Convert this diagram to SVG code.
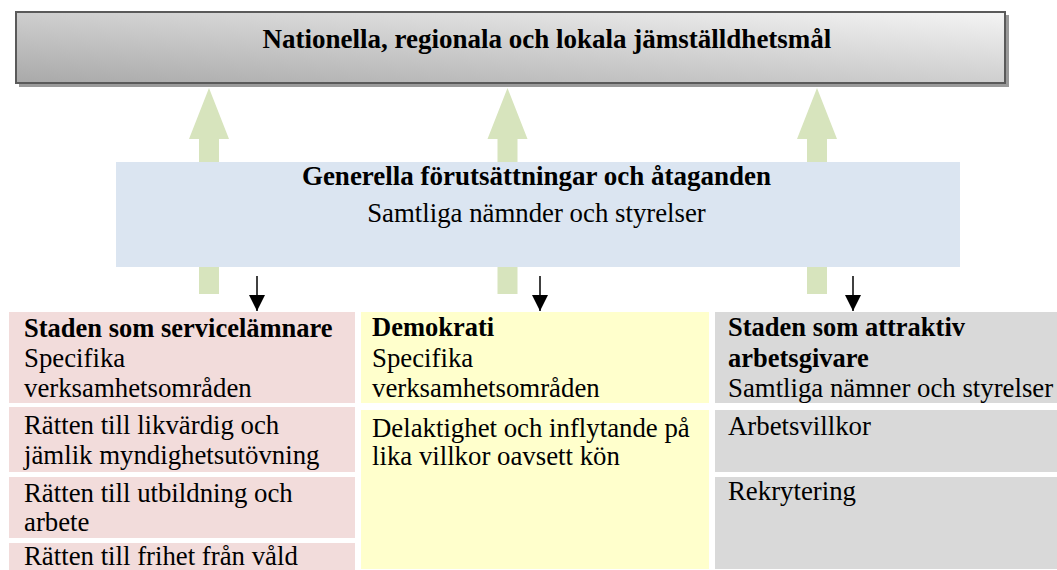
<svg xmlns="http://www.w3.org/2000/svg" width="1057" height="570" viewBox="0 0 1057 570">
<defs>
<linearGradient id="gTop" x1="0" y1="1" x2="1" y2="0">
<stop offset="0" stop-color="#a9a9a9"/>
<stop offset="1" stop-color="#f4f4f4"/>
</linearGradient>
<marker id="ah" viewBox="0 0 16 16" refX="16" refY="8" markerWidth="16" markerHeight="16" markerUnits="userSpaceOnUse" orient="auto">
<path d="M0,0 L16,8 L0,16 Z" fill="#000"/>
</marker>
</defs>
<style>
text{font-family:'Liberation Serif','Times New Roman',serif;font-size:26.8px;fill:#000}
.b{font-weight:bold;font-size:26.5px}
.t{font-size:27px}
.c{text-anchor:middle}
.green{fill:#d7e4bd}
.pink{fill:#f2dcdb}
.yel{fill:#ffffcc}
.gray{fill:#d9d9d9}
.blk{stroke:#000;stroke-width:1.5;fill:none}
</style>
<g id="green-arrows">
<path class="green" d="M209,88 L229,139 L219,139 L219,294 L199,294 L199,139 L189,139 Z"/>
<path class="green" d="M507.5,88 L527.5,139 L517.5,139 L517.5,294 L497.5,294 L497.5,139 L487.5,139 Z"/>
<path class="green" d="M817,88 L837,139 L827,139 L827,294 L807,294 L807,139 L797,139 Z"/>
</g>
<g id="top-goal">
<rect x="19" y="15" width="990" height="72" fill="#9a9a9a"/>
<rect x="16" y="12" width="989" height="71" fill="url(#gTop)" stroke="#5a5a5a" stroke-width="2"/>
<text class="b c t" x="547" y="48">Nationella, regionala och lokala jämställdhetsmål</text>
</g>
<g id="general">
<rect x="116" y="162" width="844" height="105" fill="#dbe5f1"/>
<text class="b c t" x="536.5" y="185">Generella förutsättningar och åtaganden</text>
<text class="c" x="536.5" y="222">Samtliga nämnder och styrelser</text>
</g>
<g id="connectors">
<line class="blk" x1="257" y1="276" x2="257" y2="311" marker-end="url(#ah)"/>
<line class="blk" x1="540" y1="276" x2="540" y2="311" marker-end="url(#ah)"/>
<line class="blk" x1="853" y1="276" x2="853" y2="311" marker-end="url(#ah)"/>
</g>
<g id="service">
<rect class="pink" x="9" y="312" width="346" height="91"/>
<text class="b" x="24" y="337">Staden som servicelämnare</text>
<text x="24" y="367">Specifika</text>
<text x="24" y="397">verksamhetsområden</text>
</g>
<g id="service-1">
<rect class="pink" x="9" y="407" width="346" height="65"/>
<text x="24" y="434">Rätten till likvärdig och</text>
<text x="24" y="464">jämlik myndighetsutövning</text>
</g>
<g id="service-2">
<rect class="pink" x="9" y="477" width="346" height="61"/>
<text x="24" y="502">Rätten till utbildning och</text>
<text x="24" y="531">arbete</text>
</g>
<g id="service-3">
<rect class="pink" x="9" y="543" width="346" height="27"/>
<text x="24" y="565">Rätten till frihet från våld</text>
</g>
<g id="demokrati">
<rect class="yel" x="361" y="312" width="348" height="91"/>
<text class="b" x="372" y="336">Demokrati</text>
<text x="372" y="367">Specifika</text>
<text x="372" y="397">verksamhetsområden</text>
</g>
<g id="demokrati-1">
<rect class="yel" x="361" y="410" width="348" height="159"/>
<text x="372" y="437">Delaktighet och inflytande på</text>
<text x="372" y="465">lika villkor oavsett kön</text>
</g>
<g id="arbetsgivare">
<rect class="gray" x="715" y="312" width="342" height="91"/>
<text class="b" x="728" y="336">Staden som attraktiv</text>
<text class="b" x="728" y="367">arbetsgivare</text>
<text x="728" y="397">Samtliga nämner och styrelser</text>
</g>
<g id="arbetsgivare-1">
<rect class="gray" x="715" y="410" width="342" height="62"/>
<text x="728" y="435">Arbetsvillkor</text>
</g>
<g id="arbetsgivare-2">
<rect class="gray" x="715" y="477" width="342" height="92"/>
<text x="728" y="500">Rekrytering</text>
</g>
</svg>
